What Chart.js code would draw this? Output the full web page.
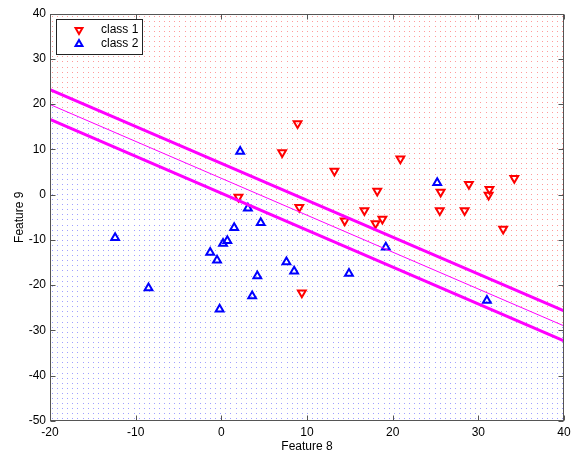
<!DOCTYPE html>
<html>
<head>
<meta charset="utf-8">
<script src="https://cdn.jsdelivr.net/npm/chart.js@4/dist/chart.umd.min.js"></script>
<style>
html,body{margin:0;padding:0;background:#fff;}
#wrap{position:relative;width:573px;height:454px;}
</style>
</head>
<body>
<div id="wrap"><canvas id="c" width="573" height="454"></canvas></div>
<script>
// ---- data ----
const seriesNames = ['class 1', 'class 2'];
const class1X = [8.9, 7.1, 13.2, 20.9, 34.2, 28.9, 31.3, 31.2, 25.6, 18.2, 2.0, 9.1, 16.7, 25.5, 28.4, 14.4, 18.8, 18.0, 32.9, 9.4];
const class1Y = [15.7, 9.3, 5.2, 7.9, 3.6, 2.3, 1.2, -0.1, 0.6, 0.8, -0.5, -2.8, -3.5, -3.5, -3.5, -5.8, -5.4, -6.4, -7.6, -21.7];
const class2X = [-12.4, -8.5, 2.2, 3.1, 4.6, 1.5, 0.7, 0.2, -1.3, -0.5, 7.6, 8.5, 14.9, 4.2, 3.6, -0.2, 25.2, 19.2, 31.0];
const class2Y = [-9.5, -20.6, 9.5, -3.0, -6.2, -7.3, -10.2, -10.8, -12.8, -14.5, -14.9, -16.9, -17.4, -18.0, -22.4, -25.3, 2.6, -11.6, -23.4];
const lineX = [-20, 40];
const upperMarginY = [23.2, -25.7];
const boundaryY = [19.9, -29.0];
const lowerMarginY = [16.6, -32.3];
const xTicks = [-20, -10, 0, 10, 20, 30, 40];
const yTicks = [-50, -40, -30, -20, -10, 0, 10, 20, 30, 40];
const xTitle = 'Feature 8';
const yTitle = 'Feature 9';

const toPts = (xs, ys) => xs.map((x, i) => ({x: x, y: ys[i]}));
const FONT = {family: 'Arial, "Liberation Sans", sans-serif', size: 12};

// background decision-region dots
const regionPlugin = {
  id: 'region',
  beforeDatasetsDraw(chart) {
    const {ctx, chartArea: a, scales: {x, y}} = chart;
    ctx.save();
    ctx.beginPath();
    ctx.rect(a.left, a.top, a.right - a.left, a.bottom - a.top);
    ctx.clip();
    const slope = (boundaryY[1] - boundaryY[0]) / (lineX[1] - lineX[0]);
    const stepPx = 5.1;
    for (let px = a.left + 2; px < a.right; px += stepPx) {
      const xv = x.getValueForPixel(px);
      const by = boundaryY[0] + slope * (xv - lineX[0]);
      for (let py = a.top + 2; py < a.bottom; py += stepPx) {
        const yv = y.getValueForPixel(py);
        ctx.fillStyle = yv > by ? 'rgb(255,155,155)' : 'rgb(160,160,255)';
        ctx.fillRect(Math.round(px), Math.round(py), 1, 1);
      }
    }
    ctx.restore();
  }
};

// MATLAB-like box with inward ticks, and the legend box
const framePlugin = {
  id: 'frame',
  afterDraw(chart) {
    const {ctx, chartArea: a, scales: {x, y}} = chart;
    ctx.save();
    ctx.strokeStyle = '#555';
    ctx.lineWidth = 1;
    const L = Math.round(a.left) + 0.5, R = Math.round(a.right) - 0.5;
    const T = Math.round(a.top) + 0.5, B = Math.round(a.bottom) - 0.5;
    ctx.strokeRect(L, T, R - L, B - T);
    const tl = 5;
    ctx.beginPath();
    xTicks.forEach(v => {
      const p = Math.round(x.getPixelForValue(v)) + 0.5;
      ctx.moveTo(p, B); ctx.lineTo(p, B - tl);
      ctx.moveTo(p, T); ctx.lineTo(p, T + tl);
    });
    yTicks.forEach(v => {
      const p = Math.round(y.getPixelForValue(v)) + 0.5;
      ctx.moveTo(L, p); ctx.lineTo(L + tl, p);
      ctx.moveTo(R, p); ctx.lineTo(R - tl, p);
    });
    ctx.stroke();

    // legend
    const lx = a.left + 6, ly = a.top + 5.5, lw = 86, lh = 35;
    ctx.fillStyle = '#fff';
    ctx.fillRect(lx, ly, lw, lh);
    ctx.strokeStyle = '#222';
    ctx.strokeRect(Math.round(lx) + 0.5, Math.round(ly) + 0.5, lw, lh);
    const items = [
      {name: seriesNames[0], color: '#ff0000', down: true},
      {name: seriesNames[1], color: '#0000ff', down: false}
    ];
    items.forEach((it, i) => {
      const cx = lx + 23, cy = ly + 11 + i * 14;
      const r = 4;
      ctx.beginPath();
      if (it.down) {
        ctx.moveTo(cx, cy + r);
        ctx.lineTo(cx - r * 0.866, cy - r * 0.5);
        ctx.lineTo(cx + r * 0.866, cy - r * 0.5);
      } else {
        ctx.moveTo(cx, cy - r);
        ctx.lineTo(cx - r * 0.866, cy + r * 0.5);
        ctx.lineTo(cx + r * 0.866, cy + r * 0.5);
      }
      ctx.closePath();
      ctx.strokeStyle = it.color;
      ctx.lineWidth = 2;
      ctx.stroke();
      ctx.fillStyle = '#000';
      ctx.font = '12px Arial, "Liberation Sans", sans-serif';
      ctx.textAlign = 'left';
      ctx.textBaseline = 'middle';
      ctx.fillText(it.name, lx + 45, cy);
    });
    ctx.restore();
  }
};

new Chart(document.getElementById('c'), {
  type: 'scatter',
  data: {
    datasets: [
      {
        label: seriesNames[0],
        data: toPts(class1X, class1Y),
        pointStyle: 'triangle',
        rotation: 180,
        radius: 4.5,
        borderColor: '#ff0000',
        backgroundColor: 'rgba(0,0,0,0)',
        borderWidth: 2,
        order: 2
      },
      {
        label: seriesNames[1],
        data: toPts(class2X, class2Y),
        pointStyle: 'triangle',
        radius: 4.5,
        borderColor: '#0000ff',
        backgroundColor: 'rgba(0,0,0,0)',
        borderWidth: 2,
        order: 2
      },
      {
        type: 'line', label: 'upper margin',
        data: toPts(lineX, upperMarginY),
        borderColor: '#ff00ff', borderWidth: 3, pointRadius: 0, fill: false, order: 1
      },
      {
        type: 'line', label: 'boundary',
        data: toPts(lineX, boundaryY),
        borderColor: '#ff00ff', borderWidth: 1, pointRadius: 0, fill: false, order: 1
      },
      {
        type: 'line', label: 'lower margin',
        data: toPts(lineX, lowerMarginY),
        borderColor: '#ff00ff', borderWidth: 3, pointRadius: 0, fill: false, order: 1
      }
    ]
  },
  options: {
    responsive: false,
    animation: false,
    devicePixelRatio: 1,
    layout: {padding: {left: 0, right: 9, top: 13.5, bottom: 0}},
    plugins: {legend: {display: false}, tooltip: {enabled: false}},
    scales: {
      x: {
        type: 'linear', min: -20, max: 40,
        afterBuildTicks: s => { s.ticks = xTicks.map(v => ({value: v})); },
        afterFit: s => { s.height = 33; s.paddingLeft = 0; s.paddingRight = 0; },
        grid: {display: false, drawTicks: false},
        border: {display: false},
        ticks: {color: '#000', font: FONT, padding: 4, maxRotation: 0, autoSkip: false},
        title: {display: true, text: xTitle, color: '#000', font: FONT, padding: {top: 0, bottom: 0.5}}
      },
      y: {
        type: 'linear', min: -50, max: 40,
        afterBuildTicks: s => { s.ticks = yTicks.map(v => ({value: v})); },
        afterFit: s => { s.width = 50; s.paddingTop = 0; s.paddingBottom = 0; },
        grid: {display: false, drawTicks: false},
        border: {display: false},
        ticks: {color: '#000', font: FONT, padding: 4, autoSkip: false},
        title: {display: true, text: yTitle, color: '#000', font: FONT, padding: {top: 12, bottom: 0}}
      }
    }
  },
  plugins: [regionPlugin, framePlugin]
});
</script>
</body>
</html>
